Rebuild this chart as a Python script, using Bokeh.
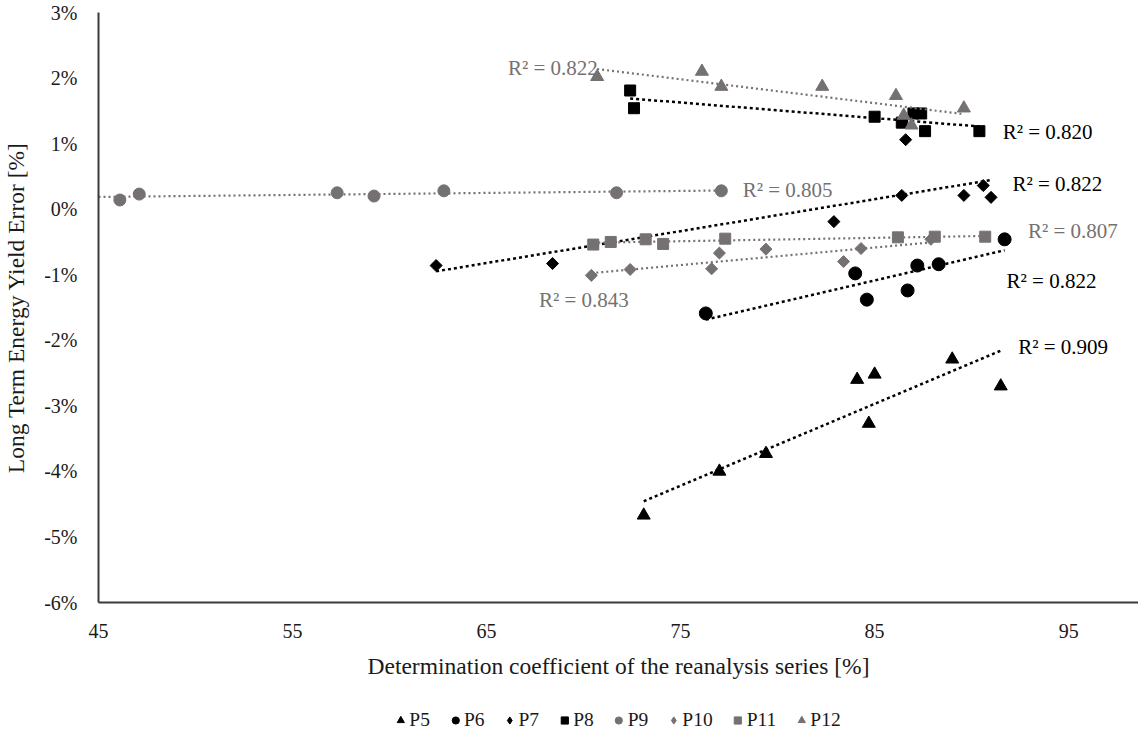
import numpy as np
from bokeh.plotting import figure
from bokeh.layouts import column
from bokeh.models import Range1d, FixedTicker, Legend, LegendItem, Label
from bokeh.embed import file_html
from bokeh.resources import INLINE

# ---------------- data ----------------
series_names = ["P5", "P6", "P7", "P8", "P9", "P10", "P11", "P12"]

p5_x = [73.1, 77.0, 79.4, 84.1, 85.0, 84.7, 89.0, 91.5]
p5_y = [-4.67, -4.00, -3.73, -2.60, -2.52, -3.27, -2.29, -2.70]

p6_x = [76.3, 84.0, 84.6, 86.7, 87.2, 88.3, 91.7]
p6_y = [-1.59, -0.98, -1.38, -1.24, -0.86, -0.84, -0.46]

p7_x = [62.4, 68.4, 82.9, 86.4, 89.6, 90.6, 91.0, 86.6]
p7_y = [-0.86, -0.83, -0.19, 0.21, 0.21, 0.36, 0.18, 1.06]

p8_x = [72.4, 72.6, 85.0, 86.4, 87.0, 87.4, 87.6, 90.4]
p8_y = [1.81, 1.54, 1.41, 1.32, 1.46, 1.46, 1.19, 1.19]

p9_x = [46.1, 47.1, 57.3, 59.2, 62.8, 71.7, 77.1]
p9_y = [0.14, 0.23, 0.25, 0.20, 0.28, 0.25, 0.28]

p10_x = [70.4, 72.4, 76.6, 77.0, 79.4, 83.4, 84.3, 87.9]
p10_y = [-1.01, -0.92, -0.91, -0.67, -0.61, -0.80, -0.60, -0.46]

p11_x = [70.5, 71.4, 73.2, 74.1, 77.3, 86.2, 88.1, 90.7]
p11_y = [-0.54, -0.50, -0.46, -0.53, -0.45, -0.43, -0.42, -0.42]

p12_x = [70.7, 76.1, 77.1, 82.3, 86.1, 86.5, 86.9, 89.6]
p12_y = [2.02, 2.10, 1.87, 1.87, 1.73, 1.43, 1.28, 1.54]

r2_texts = ["R² = 0.909", "R² = 0.822", "R² = 0.822", "R² = 0.820",
            "R² = 0.805", "R² = 0.843", "R² = 0.807", "R² = 0.822"]

x_ticks = [45, 55, 65, 75, 85, 95]
y_ticks = [-6, -5, -4, -3, -2, -1, 0, 1, 2, 3]
y_tick_labels = ["-6%", "-5%", "-4%", "-3%", "-2%", "-1%", "0%", "1%", "2%", "3%"]

# ---------------- styles ----------------
BLACK = "#000000"
GRAY = "#767171"
FONT = "Liberation Serif"

xs_all = [p5_x, p6_x, p7_x, p8_x, p9_x, p10_x, p11_x, p12_x]
ys_all = [p5_y, p6_y, p7_y, p8_y, p9_y, p10_y, p11_y, p12_y]
colors = [BLACK, BLACK, BLACK, BLACK, GRAY, GRAY, GRAY, GRAY]
markers = ["triangle", "circle", "square", "square", "circle", "square", "square", "triangle"]
legend_markers = ["triangle", "circle", "diamond", "square", "circle", "diamond", "square", "triangle"]
angles = [0, 0, np.pi / 4, 0, 0, np.pi / 4, 0, 0]
sizes = [13, 13, 8.5, 11, 12, 8.5, 11, 13]
# label anchor positions (data coords) for the R² annotations
label_pos = [(92.4, -2.11), (91.8, -1.10), (92.1, 0.39), (91.6, 1.17),
             (78.2, 0.29), (67.7, -1.38), (92.9, -0.33), (66.1, 2.16)]

X0, X1 = 45, 98.6

p = figure(frame_width=1040, frame_height=590, output_backend="svg", toolbar_location=None,
           x_range=Range1d(X0, X1), y_range=Range1d(-6, 3),
           min_border_left=94, min_border_top=12, min_border_right=0,
           min_border_bottom=104)
p.outline_line_color = None
p.xgrid.visible = False
p.ygrid.visible = False
p.background_fill_color = "white"
p.border_fill_color = "white"

for ax in (p.xaxis[0], p.yaxis[0]):
    ax.axis_line_color = "#3a3a3a"
    ax.axis_line_width = 2
    ax.major_tick_line_color = None
    ax.minor_tick_line_color = None
    ax.major_label_text_font = FONT
    ax.major_label_text_font_size = "20px"
    ax.major_label_text_color = "#1a1a1a"
    ax.axis_label_text_font = FONT
    ax.axis_label_text_font_size = "23.5px"
    ax.axis_label_text_font_style = "normal"
    ax.axis_label_text_color = "#1a1a1a"

p.xaxis.ticker = FixedTicker(ticks=x_ticks)
p.yaxis.ticker = FixedTicker(ticks=y_ticks)
p.yaxis.major_label_overrides = {t: l for t, l in zip(y_ticks, y_tick_labels)}
p.xaxis.major_label_standoff = 15
p.yaxis.major_label_standoff = 15
p.xaxis.axis_label = "Determination coefficient of the reanalysis series [%]"
p.yaxis.axis_label = "Long Term Energy Yield Error [%]"
p.xaxis.axis_label_standoff = 12
p.yaxis.axis_label_standoff = 12

for i in range(len(series_names)):
    x = np.array(xs_all[i])
    y = np.array(ys_all[i])
    c = colors[i]
    fit = np.polyfit(x, y, 1)
    lx0 = X0 if series_names[i] == "P9" else x.min()
    lx = np.array([lx0, x.max()])
    p.line(lx, np.polyval(fit, lx), line_color=c,
           line_width=2.5 if c == BLACK else 2.2,
           line_dash="3 3" if c == BLACK else "2 3", line_cap="butt")
    p.scatter(x, y, marker=markers[i], size=sizes[i], angle=angles[i],
              fill_color=c, line_color=c, line_width=1)
    lab = Label(x=label_pos[i][0], y=label_pos[i][1], text=r2_texts[i],
                text_font=FONT, text_font_size="21px", text_color=c,
                text_baseline="middle", text_align="left")
    p.add_layout(lab)

# ---------------- legend strip below the chart ----------------
leg = figure(width=1134, height=28, output_backend="svg", toolbar_location=None,
             x_range=Range1d(0, 1), y_range=Range1d(0, 1),
             min_border=0)
leg.axis.visible = False
leg.grid.visible = False
leg.outline_line_color = None
leg.border_fill_color = "white"

items = []
for i, n in enumerate(series_names):
    # proxy renderers (outside the visible range) that only feed the legend
    r = leg.scatter(x=[-5], y=[-5], marker=legend_markers[i], size=sizes[i],
                    fill_color=colors[i], line_color=colors[i])
    items.append(LegendItem(label=n, renderers=[r]))

legend = Legend(items=items, orientation="horizontal", location="center",
                label_text_font=FONT, label_text_font_size="19.5px",
                label_text_color="#1a1a1a",
                glyph_width=18, glyph_height=22, label_standoff=0, spacing=16,
                border_line_color=None, background_fill_alpha=0,
                margin=0, padding=2)
leg.add_layout(legend)

layout = column(p, leg, spacing=0)
open("out.html", "w").write(file_html(layout, INLINE))
